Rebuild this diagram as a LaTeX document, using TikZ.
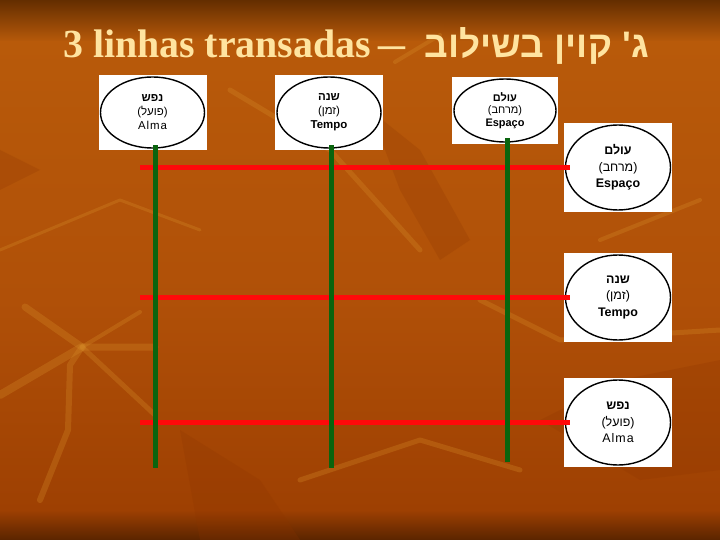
\documentclass[tikz,border=0pt]{standalone}
\usepackage{fontspec}
\usepackage{graphicx}
\setmainfont{Liberation Serif}
\newfontfamily\hebsans[Script=Hebrew]{Liberation Sans}
\newfontfamily\latsans{Liberation Sans}
\newfontfamily\latsanswide[LetterSpace=8]{Liberation Sans}
\TeXXeTstate=1
\usetikzlibrary{shapes.geometric}
\definecolor{bgA}{RGB}{100,46,0}
\definecolor{bgB}{RGB}{184,90,10}
\definecolor{bgC}{RGB}{176,80,8}
\definecolor{bgD}{RGB}{158,64,2}
\definecolor{bgE}{RGB}{90,36,0}
\definecolor{streakcol}{RGB}{214,140,40}
\definecolor{leafdark}{RGB}{140,52,0}
\definecolor{titlecol}{RGB}{255,228,160}
\definecolor{linered}{RGB}{255,10,10}
\definecolor{linegreen}{RGB}{10,100,14}
\newcommand{\heb}[1]{{\hebsans\beginR #1\endR}}
\newcommand{\hebb}[1]{{\hebsans\bfseries\beginR #1\endR}}
\newcommand{\parenheb}[1]{(\heb{#1})}
\begin{document}
\begin{tikzpicture}[x=1bp,y=-1bp,
  card/.style={rectangle, fill=white, inner sep=0pt, minimum width=108bp},
  topcard/.style={card, minimum height=75bp},
  sidecard/.style={card, minimum height=89bp},
  oval/.style={ellipse, draw=black, line width=1.4bp, inner sep=0pt, align=center},
  topoval/.style={oval, minimum width=104bp, minimum height=71bp,
     font=\latsans\fontsize{11.5}{14}\selectfont},
  sideoval/.style={oval, minimum width=105bp, minimum height=85bp,
     font=\latsans\fontsize{12.5}{16.5}\selectfont},
  redline/.style={draw=linered, line width=5bp},
  greenline/.style={draw=linegreen, line width=5bp},
  streak/.style={draw=streakcol, opacity=0.3, line cap=round, line join=round},
  leaf/.style={fill=leafdark, opacity=0.22}]
\useasboundingbox (0,0) rectangle (720,540);
% background
\shade[top color=bgA, bottom color=bgB] (0,0) rectangle (720,42);
\shade[top color=bgB, bottom color=bgC] (0,42) rectangle (720,300);
\shade[top color=bgC, bottom color=bgD] (0,300) rectangle (720,510);
\shade[top color=bgD, bottom color=bgE] (0,510) rectangle (720,540);
% texture
\fill[leaf] (370,110) -- (420,150) -- (470,240) -- (440,260) -- (400,190) -- cycle;
\fill[leaf] (540,420) -- (620,380) -- (720,360) -- (720,470) -- (640,480) -- cycle;
\fill[leaf] (180,430) -- (260,480) -- (300,540) -- (200,540) -- cycle;
\fill[leaf] (0,150) -- (40,170) -- (0,190) -- cycle;
\draw[streak, line width=7bp] (25,307) -- (82,347) -- (155,347);
\draw[streak, line width=4bp] (82,347) -- (140,312);
\draw[streak, line width=5bp] (82,347) -- (155,415);
\draw[streak, line width=6bp] (82,347) -- (70,365) -- (68,430) -- (40,500);
\draw[streak, line width=8bp] (82,347) -- (0,395);
\draw[streak, line width=5bp] (230,90) -- (330,150) -- (420,250);
\draw[streak, line width=4bp] (395,62) -- (440,35);
\draw[streak, line width=5bp] (480,300) -- (560,340) -- (720,330);
\draw[streak, line width=4bp] (600,240) -- (700,200);
\draw[streak, line width=5bp] (300,480) -- (420,440) -- (520,470);
\draw[streak, line width=3bp] (0,250) -- (120,200) -- (200,230);
% title
\node[anchor=base west, inner sep=0pt, text=titlecol,
  font=\fontsize{40}{44}\selectfont\bfseries] (title) at (63,58)
  {3 linhas transadas\hspace{7bp}\scalebox{1.35}[1]{\textendash}\hspace{20bp}{\hebsans\fontsize{37}{40}\selectfont\bfseries\beginR ג{}' קוין בשילוב\endR}};
% top cards
\node[topcard] (box1) at (152.5,112.5) {};
\node[topoval] (e1) at (box1.center) {\hebb{נפש}\\\parenheb{פועל}\\{\latsanswide Alma}};
\node[topcard] (box2) at (329,112.5) {};
\node[topoval] (e2) at (box2.center) {\hebb{שנה}\\\parenheb{זמן}\\\textbf{Tempo}};
\node[card, minimum width=106bp, minimum height=67bp] (box3) at (505,110.5) {};
\node[oval, minimum width=102bp, minimum height=63bp,
  font=\latsans\fontsize{11}{12.5}\selectfont] (e3) at (box3.center)
  {\hebb{עולם}\\\parenheb{מרחב}\\\textbf{Espaço}};
% side cards
\node[sidecard] (box4) at (618,167.5) {};
\node[sideoval] (e4) at (box4.center) {\hebb{עולם}\\\parenheb{מרחב}\\\textbf{Espaço}};
\node[sidecard] (box5) at (618,297.5) {};
\node[sideoval] (e5) at (box5.center) {\hebb{שנה}\\\parenheb{זמן}\\\textbf{Tempo}};
\node[sidecard] (box6) at (618,422.5) {};
\node[sideoval] (e6) at (box6.center) {\hebb{נפש}\\\parenheb{פועל}\\{\latsanswide Alma}};
% red lines
\coordinate (r1) at (140,167.5);
\coordinate (r2) at (140,297.5);
\coordinate (r3) at (140,422.5);
\draw[redline] (r1) -- ([xshift=6bp]box4.west);
\draw[redline] (r2) -- ([xshift=6bp]box5.west);
\draw[redline] (r3) -- ([xshift=6bp]box6.west);
% green lines
\coordinate (g1) at (155,468);
\coordinate (g2) at (331,468);
\coordinate (g3) at (507.5,462);
\draw[greenline] ([yshift=5bp]box1.south -| g1) -- (g1);
\draw[greenline] ([yshift=5bp]box2.south -| g2) -- (g2);
\draw[greenline] ([yshift=6bp]box3.south -| g3) -- (g3);
\end{tikzpicture}
\end{document}
